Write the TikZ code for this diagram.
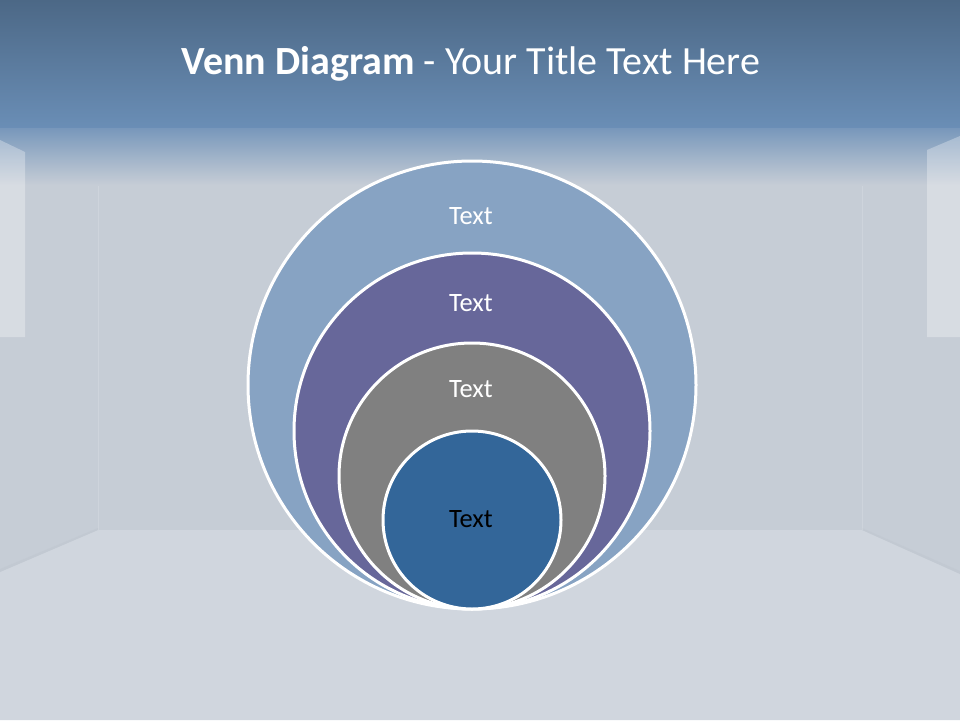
\documentclass[tikz,border=0pt]{standalone}
\usepackage{fontspec}
\setmainfont{Carlito}
\begin{document}
\begin{tikzpicture}[x=1pt,y=-1pt,
  ring/.style={draw=white,line width=3pt},
  lbl/.style={font=\fontsize{26.5}{30}\selectfont,text=white,inner sep=0pt}]
\definecolor{hdtop}{HTML}{4C6886}
\definecolor{hdbot}{HTML}{6A8EB6}
\definecolor{wall}{HTML}{C6CDD6}
\definecolor{floorc}{HTML}{D0D6DE}
\definecolor{cA}{HTML}{87A3C3}
\definecolor{cB}{HTML}{67679A}
\definecolor{cC}{HTML}{808080}
\definecolor{cD}{HTML}{336699}
\useasboundingbox (0,0) rectangle (960,720);
% background
\fill[wall] (0,0) rectangle (960,720);
\fill[floorc] (0,572) -- (98,530) -- (862,530) -- (960,574) -- (960,720) -- (0,720) -- cycle;
\fill[wall!97!black,opacity=0.6] (0,572) -- (98,530) -- (98,528) -- (0,569) -- cycle;
\fill[wall!97!black,opacity=0.6] (960,574) -- (862,530) -- (862,528) -- (960,571) -- cycle;
\draw[white,opacity=0.15,line width=0.8pt] (98,150) -- (98,530);
\draw[white,opacity=0.15,line width=0.8pt] (862,150) -- (862,530);
\shade[top color=hdtop,bottom color=hdbot] (0,0) rectangle (960,128);
\shade[top color=hdbot!85!wall,bottom color=wall] (0,128) rectangle (960,185);
\fill[white,opacity=0.3] (0,140) -- (25,152) -- (25,337) -- (0,337) -- cycle;
\fill[white,opacity=0.3] (960,136) -- (927,150) -- (927,337) -- (960,337) -- cycle;
% title
\node[anchor=base,text=white,inner sep=0pt,font=\fontsize{40}{46}\selectfont] (title) at (471,74)
  {\textbf{Venn Diagram} - Your Title Text Here};
% circles
\fill[cA] (472,385) circle (224);
\draw[ring] (472,385) circle (224);
\fill[cB] (472,431) circle (178);
\draw[ring] (472,431) circle (178);
\fill[cC] (472,476) circle (133);
\draw[ring] (472,476) circle (133);
\fill[cD] (472,520) circle (89);
\draw[ring] (472,520) circle (89);
\node[lbl] (t1) at (471,216) {Text};
\node[lbl] (t2) at (471,303) {Text};
\node[lbl] (t3) at (471,389) {Text};
\node[lbl,text=black] (t4) at (471,519) {Text};
\end{tikzpicture}
\end{document}
